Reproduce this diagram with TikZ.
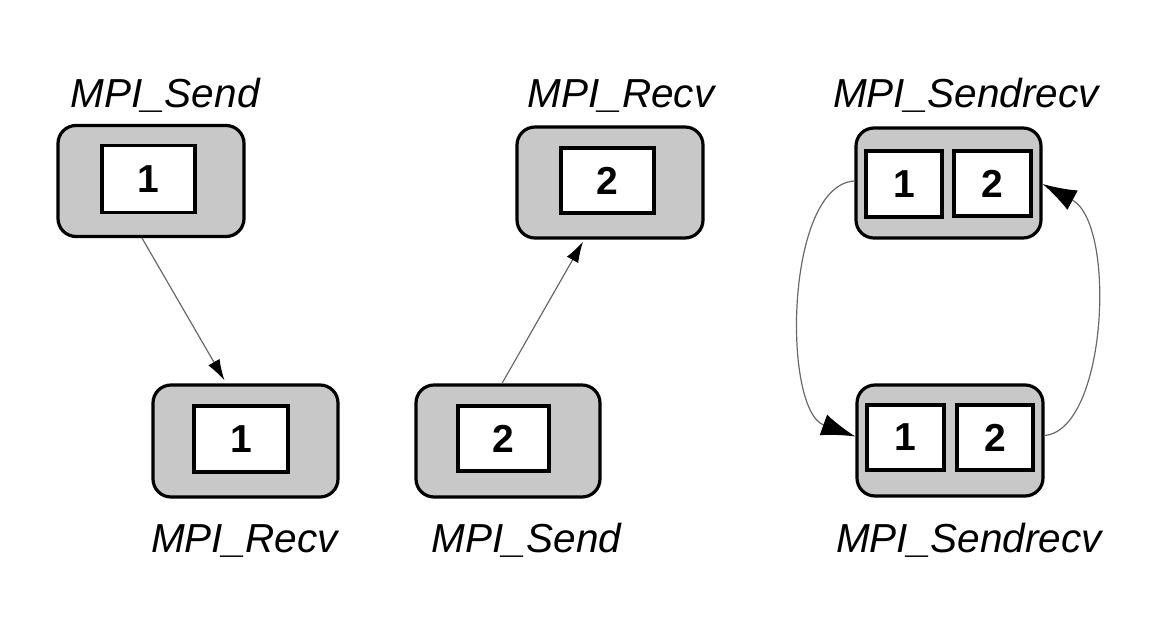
\documentclass[tikz,border=0pt]{standalone}
\usepackage{fontspec}
\setmainfont{Liberation Sans}
\usetikzlibrary{arrows.meta,calc}
\definecolor{boxgray}{RGB}{200,200,200}
\definecolor{linegray}{RGB}{105,105,105}
\begin{document}
\begin{tikzpicture}[x=1pt,y=-1pt,
  outerbox/.style={draw=black,line width=3.2pt,fill=boxgray,rounded corners=18pt,inner sep=0pt},
  innerbox/.style={draw=black,line width=3.2pt,fill=white,inner sep=0pt,font=\fontsize{39}{44}\selectfont\bfseries},
  lab/.style={anchor=base,inner sep=0pt,font=\fontsize{40.5}{48}\selectfont\itshape},
  conn/.style={draw=linegray,line width=1.2pt,-{Latex[length=21pt,width=13pt,color=black]}},
  bigconn/.style={draw=linegray,line width=1.2pt,-{Latex[length=34pt,width=22pt,color=black]}}]
\useasboundingbox (0,0) rectangle (1173,620);
% column 1
\node[outerbox,minimum width=186pt,minimum height=111pt] (o1) at (151,181) {};
\node[innerbox,minimum width=93pt,minimum height=67pt] (i1) at (148.5,179) {1};
\node[outerbox,minimum width=185pt,minimum height=112pt] (o2) at (245.5,441) {};
\node[innerbox,minimum width=94pt,minimum height=66pt] (i2) at (241,439) {1};
\node[lab] (l1) at (165,108) {MPI\_Send};
\node[lab] (l2) at (244.5,552) {MPI\_Recv};
% column 2
\node[outerbox,minimum width=186pt,minimum height=111pt] (o3) at (610,182.5) {};
\node[innerbox,minimum width=93pt,minimum height=65pt] (i3) at (607.5,180.5) {2};
\node[outerbox,minimum width=184pt,minimum height=112pt] (o4) at (508,441) {};
\node[innerbox,minimum width=91pt,minimum height=65pt] (i4) at (503.5,438.5) {2};
\node[lab] (l3) at (621,108) {MPI\_Recv};
\node[lab] (l4) at (526.5,552) {MPI\_Send};
% column 3
\node[outerbox,minimum width=185pt,minimum height=110pt] (o5) at (948.5,183) {};
\node[innerbox,minimum width=76pt,minimum height=66pt] (i5a) at (904,184) {1};
\node[innerbox,minimum width=77pt,minimum height=65pt] (i5b) at (992.5,183.5) {2};
\node[outerbox,minimum width=186pt,minimum height=111pt] (o6) at (950,440.5) {};
\node[innerbox,minimum width=77pt,minimum height=65pt] (i6a) at (905.5,437.5) {1};
\node[innerbox,minimum width=76pt,minimum height=65pt] (i6b) at (995,437.5) {2};
\node[lab] (l5) at (966,108) {MPI\_Sendrecv};
\node[lab] (l6) at (969,552) {MPI\_Sendrecv};
% connectors
\draw[conn] ([xshift=-9pt]o1.south) -- ([xshift=-21pt,yshift=3pt]o2.north);
\draw[conn] ([xshift=-6pt]o4.north) -- ([xshift=-27pt,yshift=-2pt]o3.south);
\draw[bigconn] ([yshift=2pt]o5.west) .. controls (785,185) and (782,410) .. ([yshift=4pt]o6.west);
\draw[bigconn] ([yshift=5pt]o6.east) .. controls (1107,430) and (1117,224) .. ([yshift=-1pt]o5.east);
\end{tikzpicture}
\end{document}
